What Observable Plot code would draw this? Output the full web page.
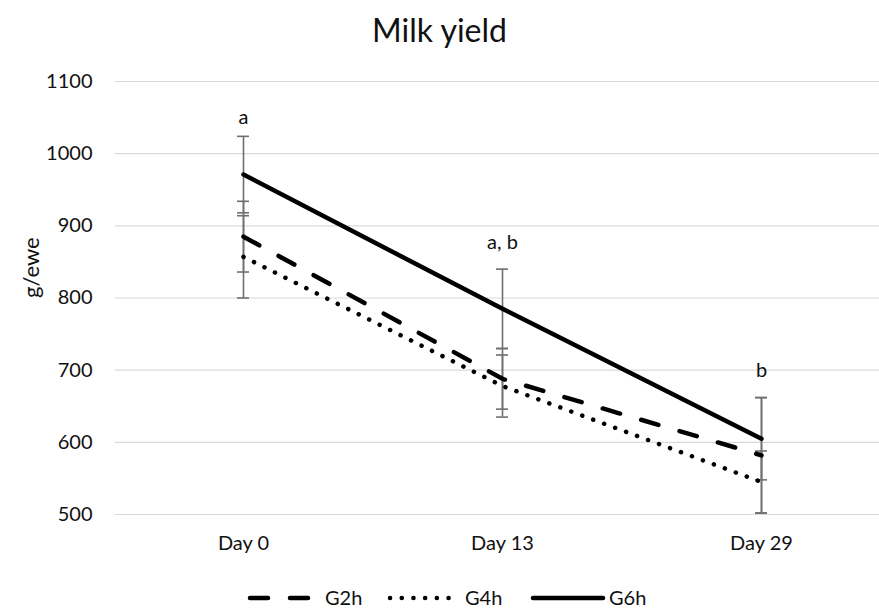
<!DOCTYPE html>
<html>
<head>
<meta charset="utf-8">
<script src="https://cdn.jsdelivr.net/npm/d3@7"></script>
<script src="https://cdn.jsdelivr.net/npm/@observablehq/plot@0.6"></script>
<style>
  html, body { margin: 0; padding: 0; background: #fff; }
  body { width: 879px; height: 609px; overflow: hidden; font-family: Lato, "Open Sans", sans-serif; }
  #title { height: 52px; text-align: center; font-size: 32px; line-height: 60px; color: #111; }
  #legend { position: relative; height: 37px; }
  #legend svg { position: absolute; left: 0; top: 0; }
</style>
</head>
<body>
<div id="title">Milk yield</div>
<div id="chart"></div>
<div id="legend"></div>
<script>
// Sampling days and mean milk yield (g/ewe) per group
const days = ["Day 0", "Day 13", "Day 29"];
const g2h = [885, 688, 582];
const g4h = [857, 678, 545];
const g6h = [971, 785, 605];
// Error bar half-widths
const g2hErr = [49, 42, 80];
const g4hErr = [57, 43, 43];
const g6hErr = [53, 55, 57];
// Significance letters and their heights
const letters = ["a", "a, b", "b"];
const letterY = [1050, 877, 700];
const yTicks = [500, 600, 700, 800, 900, 1000, 1100];
const seriesNames = ["G2h", "G4h", "G6h"];

const styles = {
  G2h: {strokeDasharray: "18 22"},
  G4h: {strokeDasharray: "0.1 11.6"},
  G6h: {strokeDasharray: null}
};

const rows = [];
[[seriesNames[0], g2h, g2hErr], [seriesNames[1], g4h, g4hErr], [seriesNames[2], g6h, g6hErr]]
  .forEach(([name, vals, errs]) => {
    days.forEach((d, i) => rows.push({series: name, day: d, value: vals[i], lo: vals[i] - errs[i], hi: vals[i] + errs[i]}));
  });
const notes = days.map((d, i) => ({day: d, y: letterY[i], text: letters[i]}));

const font = "Lato, 'Open Sans', sans-serif";
const fs = 20;

const lineMark = (name) => Plot.line(rows.filter(r => r.series === name), {
  x: "day", y: "value", stroke: "#000", strokeWidth: 4.5,
  strokeLinecap: "round", strokeLinejoin: "round",
  ...(styles[name].strokeDasharray ? {strokeDasharray: styles[name].strokeDasharray} : {})
});

const chart = Plot.plot({
  width: 879,
  height: 520,
  marginTop: 29,
  marginBottom: 58,
  marginLeft: 115,
  marginRight: 0,
  style: {fontFamily: font, fontSize: fs + "px", color: "#111", background: "#fff"},
  x: {type: "point", domain: days, range: [243, 761], padding: 0},
  y: {domain: [500, 1100]},
  marks: [
    Plot.gridY(yTicks, {stroke: "#d9d9d9", strokeOpacity: 1, strokeWidth: 1.2}),
    Plot.axisY(yTicks, {tickSize: 0, tickPadding: 23, label: null, fontSize: fs, fill: "#111", tickFormat: d => String(d)}),
    Plot.axisX({tickSize: 0, tickPadding: 21, label: null, fontSize: fs, fill: "#111"}),
    Plot.text(["g/ewe"], {frameAnchor: "left", rotate: -90, dx: -84, fontSize: 22, fill: "#111"}),
    // error bars
    Plot.ruleX(rows, {x: "day", y1: "lo", y2: "hi", stroke: "#6f6f6f", strokeWidth: 1.6}),
    Plot.ruleY(rows, {y: "lo", x1: "day", x2: "day", insetLeft: -6, insetRight: -6, stroke: "#6f6f6f", strokeWidth: 1.6}),
    Plot.ruleY(rows, {y: "hi", x1: "day", x2: "day", insetLeft: -6, insetRight: -6, stroke: "#6f6f6f", strokeWidth: 1.6}),
    lineMark("G2h"),
    lineMark("G4h"),
    lineMark("G6h"),
    Plot.text(notes, {x: "day", y: "y", text: "text", fontSize: fs, fill: "#111"})
  ]
});
document.getElementById("chart").appendChild(chart);

// Legend
const legendItems = [
  {name: "G2h", x0: 250, x1: 311, tx: 325},
  {name: "G4h", x0: 390, x1: 455, tx: 465},
  {name: "G6h", x0: 533, x1: 603, tx: 609}
];
const lg = d3.select("#legend").append("svg").attr("width", 879).attr("height", 37);
legendItems.forEach(it => {
  const ln = lg.append("line")
    .attr("x1", it.x0).attr("x2", it.x1).attr("y1", 26).attr("y2", 26)
    .attr("stroke", "#000").attr("stroke-width", 4.5).attr("stroke-linecap", "round");
  if (styles[it.name].strokeDasharray) ln.attr("stroke-dasharray", styles[it.name].strokeDasharray);
  lg.append("text").attr("x", it.tx).attr("y", 26).attr("dy", "0.35em")
    .attr("font-family", font).attr("font-size", fs).attr("fill", "#111").text(it.name);
});
</script>
</body>
</html>
